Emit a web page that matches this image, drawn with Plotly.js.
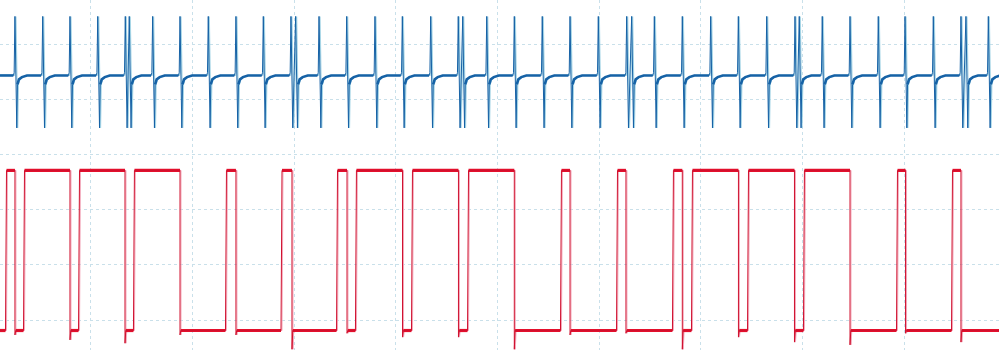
<!DOCTYPE html>
<html><head><meta charset="utf-8">
<script src="https://cdn.plot.ly/plotly-3.0.1.min.js"></script>
<style>html,body{margin:0;padding:0;background:#fff}#chart{width:999px;height:350px}</style>
</head><body><div id="chart"></div>
<script>
// Time axis: ms (1 ms per grid division); vertical axis: divisions
const redEdgeTimes = [0.167,0.255,0.344,0.796,0.885,1.337,1.425,1.878,2.330,2.428,2.876,2.979,3.422,3.520,3.608,4.066,4.159,4.616,4.710,5.165,5.624,5.713,6.175,6.263,6.725,6.817,6.912,7.369,7.463,7.920,8.013,8.466,8.928,9.012,9.469,9.557];
const redStartHigh = false;
const redHigh = 2.71;
const redLow = -0.19;
const redFallDips = [-0.27,-0.36,-0.42,-0.27,-0.27,-0.53,-0.24,-0.31,-0.31,-0.53,-0.27,-0.24,-0.53,-0.31,-0.40,-0.45,-0.24,-0.40];

const blueSpikeTimes = [0.255,0.528,0.796,1.069,1.340,1.379,1.609,1.878,2.156,2.428,2.697,2.969,3.015,3.245,3.517,3.795,4.064,4.343,4.614,4.658,4.894,5.165,5.440,5.713,5.991,6.270,6.319,6.542,6.817,7.096,7.368,7.647,7.925,7.967,8.193,8.466,8.744,9.007,9.285,9.557,9.606,9.826];
const blueBaseline = 4.43;
const blueSpikeTop = 5.50;
const blueSpikeBottom = 3.48;
const blueRecovery = [4.27, 4.36, 4.40];

const X_RANGE = [0.108, 9.931];
const Y_RANGE = [-0.543, 5.797];
const PX = (X_RANGE[1] - X_RANGE[0]) / 999;

// ---- blue trace ----
const bx = [X_RANGE[0]], by = [blueBaseline];
const tbx = [X_RANGE[0]], tby = [blueBaseline];
const tailDx = [2.5, 4, 7, 12];
const tailV = [blueRecovery[0], blueRecovery[1], blueRecovery[2], blueBaseline];
for (let i = 0; i < blueSpikeTimes.length; i++) {
  const s = blueSpikeTimes[i];
  const prevClose = i > 0 && s - blueSpikeTimes[i - 1] < 0.08;
  const nextClose = i < blueSpikeTimes.length - 1 && blueSpikeTimes[i + 1] - s < 0.08;
  if (!prevClose) {
    bx.push(s - 1.6 * PX, s - 0.8 * PX); by.push(blueBaseline, blueBaseline + 0.05);
    tbx.push(s - 1.6 * PX, null); tby.push(blueBaseline, null);
  }
  bx.push(s, s + 1.8 * PX); by.push(blueSpikeTop, blueSpikeBottom);
  if (!nextClose) {
    for (let k = 0; k < tailDx.length; k++) {
      bx.push(s + tailDx[k] * PX); by.push(tailV[k]);
      tbx.push(s + tailDx[k] * PX); tby.push(tailV[k]);
    }
  }
}
bx.push(X_RANGE[1]); by.push(blueBaseline);
tbx.push(X_RANGE[1]); tby.push(blueBaseline);

// ---- red trace ----
let level = redStartHigh;
const rx = [X_RANGE[0]], ry = [level ? redHigh : redLow];
const lx = [X_RANGE[0]], ly = [level ? redHigh : redLow];
let fi = 0;
for (const e of redEdgeTimes) {
  if (!level) {
    rx.push(e - 0.5 * PX, e + 0.5 * PX); ry.push(redLow, redHigh);
    lx.push(e - 0.5 * PX, null, e + 0.5 * PX); ly.push(redLow, null, redHigh);
  } else {
    rx.push(e, e, e + 0.8 * PX); ry.push(redHigh, redFallDips[fi++], redLow);
    lx.push(e, null, e + 0.8 * PX); ly.push(redHigh, null, redLow);
  }
  level = !level;
}
rx.push(X_RANGE[1]); ry.push(level ? redHigh : redLow);
lx.push(X_RANGE[1]); ly.push(level ? redHigh : redLow);

// faint companion strokes (trace persistence halo)
const shift = arr => arr.map(v => v === null ? null : v + 1.0 * PX);

const BLUE = '#1662a6', BLUE_HALO = '#a6d5e6', RED = '#e4102c', RED_HALO = '#f3a9bb';
const traces = [
  {x: shift(bx), y: by, mode: 'lines', line: {color: BLUE_HALO, width: 1.2}, hoverinfo: 'skip'},
  {x: tbx, y: tby, mode: 'lines', line: {color: BLUE, width: 2.6}, connectgaps: false, hoverinfo: 'skip'},
  {x: bx, y: by, mode: 'lines', line: {color: BLUE, width: 1.0}, hoverinfo: 'skip'},
  {x: shift(rx), y: ry, mode: 'lines', line: {color: RED_HALO, width: 1.0}, hoverinfo: 'skip'},
  {x: lx, y: ly, mode: 'lines', line: {color: RED, width: 3.2}, connectgaps: false, hoverinfo: 'skip'},
  {x: rx, y: ry, mode: 'lines', line: {color: '#d0102e', width: 1.0}, hoverinfo: 'skip'}
];
const grid = {showgrid: true, gridcolor: '#c9e0ea', gridwidth: 1, griddash: '3px,3px',
  zeroline: false, showticklabels: false, ticks: '', showline: false, dtick: 1, tick0: 0, fixedrange: true};
const layout = {
  width: 999, height: 350,
  margin: {l: 0, r: 0, t: 0, b: 0, pad: 0},
  paper_bgcolor: '#ffffff', plot_bgcolor: '#ffffff',
  showlegend: false,
  xaxis: Object.assign({range: X_RANGE}, grid),
  yaxis: Object.assign({range: Y_RANGE}, grid)
};
Plotly.newPlot('chart', traces, layout, {displayModeBar: false, staticPlot: true});
</script>
</body></html>
